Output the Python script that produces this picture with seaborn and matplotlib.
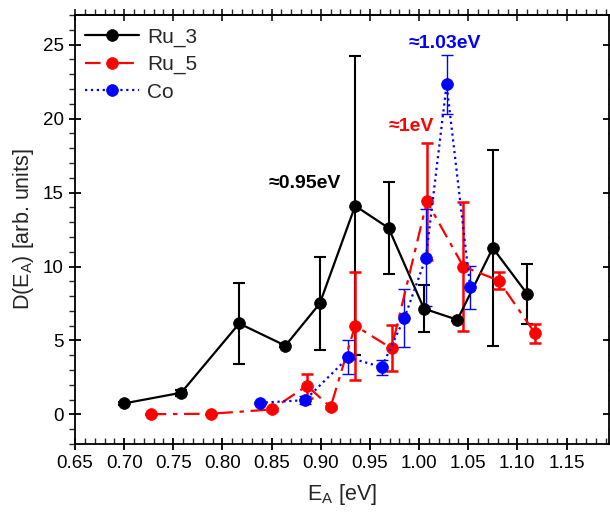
import numpy as np
import pandas as pd
import seaborn as sns
import matplotlib.pyplot as plt
from matplotlib.ticker import MultipleLocator

# data
ru3_x = [0.700, 0.758, 0.817, 0.864, 0.899, 0.935, 0.969, 1.005, 1.039, 1.075, 1.110]
ru3_y = [0.75, 1.47, 6.15, 4.65, 7.5, 14.1, 12.6, 7.15, 6.4, 11.25, 8.15]
ru3_err = [0.1, 0.2, 2.75, 0.1, 3.15, 10.1, 3.1, 1.6, 0.1, 6.6, 2.05]

ru5_x = [0.727, 0.788, 0.850, 0.886, 0.910, 0.935, 0.972, 1.008, 1.045, 1.081, 1.118]
ru5_y = [0.02, 0.05, 0.34, 1.94, 0.5, 6.0, 4.47, 14.4, 10.0, 9.05, 5.48]
ru5_err = [0.0, 0.0, 0.1, 0.8, 0.1, 3.65, 1.55, 3.95, 4.35, 0.55, 0.64]

co_x = [0.838, 0.884, 0.928, 0.962, 0.985, 1.007, 1.028, 1.052]
co_y = [0.79, 0.97, 3.86, 3.2, 6.5, 10.6, 22.3, 8.6]
co_err = [0.05, 0.25, 1.14, 0.5, 1.96, 3.3, 2.0, 1.45]

x_ticks = [0.65, 0.70, 0.75, 0.80, 0.85, 0.90, 0.95, 1.00, 1.05, 1.10, 1.15]
y_ticks = [0, 5, 10, 15, 20, 25]

series = [
    ('Ru_3', ru3_x, ru3_y, ru3_err, 'black', '-', 1.5),
    ('Ru_5', ru5_x, ru5_y, ru5_err, 'red', (0, (7, 3, 2, 3)), 1.8),
    ('Co', co_x, co_y, co_err, 'blue', ':', 1.0),
]

sns.set_style('ticks')
plt.rcParams['font.family'] = ['Liberation Sans', 'DejaVu Sans']
plt.rcParams['mathtext.fontset'] = 'custom'
plt.rcParams['mathtext.rm'] = 'Liberation Sans'

fig = plt.figure(figsize=(6.1, 5.14), dpi=100)
ax = fig.add_axes([0.123, 0.136, 0.875, 0.835])

for name, xs, ys, errs, col, ls, elw in series:
    df = pd.DataFrame({'E': xs, 'D': ys})
    ax.errorbar(xs, ys, yerr=errs, fmt='none', ecolor=col, elinewidth=elw,
                capsize=4, capthick=elw, zorder=2)
    sns.lineplot(x='E', y='D', data=df, ax=ax, color=col, linestyle=ls, lw=1.6,
                 marker='o', markersize=8.5, markeredgecolor=col, markeredgewidth=0.5,
                 label=name, zorder=3)

ax.text(0.921, 15.6, '\u22480.95eV', color='black', fontsize=14, fontweight='bold',
        ha='right', va='center')
ax.text(0.992, 19.45, '\u22481eV', color='red', fontsize=14, fontweight='bold',
        ha='center', va='center')
ax.text(1.026, 25.1, '\u22481.03eV', color='blue', fontsize=14, fontweight='bold',
        ha='center', va='center')

ax.set_xlim(0.65, 1.193)
ax.set_ylim(-2, 27)
ax.set_xticks(x_ticks)
ax.set_xticklabels(['{:.2f}'.format(t) for t in x_ticks])
ax.set_yticks(y_ticks)
ax.xaxis.set_minor_locator(MultipleLocator(0.01))
ax.yaxis.set_minor_locator(MultipleLocator(1))
ax.tick_params(axis='both', which='major', direction='inout', length=9, width=1.3,
               labelsize=13.5, colors='black')
ax.tick_params(axis='x', which='minor', direction='in', length=4, width=1.0)
ax.tick_params(axis='y', which='minor', direction='out', length=4, width=1.0,
               right=True)
ax.tick_params(axis='y', which='major', right=True)
for sp in ax.spines.values():
    sp.set_linewidth(1.3)
    sp.set_color('black')

top = ax.secondary_xaxis('top')
top.set_xticks(x_ticks)
top.xaxis.set_minor_locator(MultipleLocator(0.01))
top.tick_params(which='major', direction='inout', length=9, width=1.3, labeltop=False)
top.tick_params(which='minor', direction='out', length=4, width=1.0)
top.spines['top'].set_linewidth(1.3)

ax.set_xlabel('E$_\\mathregular{A}$ [eV]', fontsize=15.5, labelpad=7)
ax.set_ylabel('D(E$_\\mathregular{A}$) [arb. units]', fontsize=15.5, labelpad=5)

ax.legend(loc='upper left', frameon=False, fontsize=15, handlelength=2.6,
          handletextpad=0.4, labelspacing=0.4, borderaxespad=0.2,
          bbox_to_anchor=(-0.005, 1.0))

plt.savefig('out.png', dpi=100)
